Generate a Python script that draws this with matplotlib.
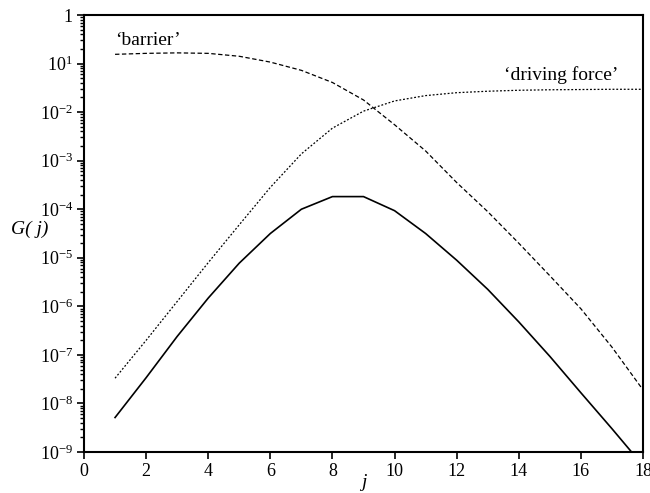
import numpy as np
import matplotlib
matplotlib.use("Agg")
import matplotlib.pyplot as plt
from matplotlib.ticker import FixedLocator, FixedFormatter, LogLocator, NullFormatter

plt.rcParams["font.family"] = ["Liberation Serif", "DejaVu Serif"]
plt.rcParams["mathtext.fontset"] = "custom"
plt.rcParams["mathtext.rm"] = "Liberation Serif"
plt.rcParams["mathtext.it"] = "Liberation Serif:italic"

# cluster size j
j = np.arange(1, 19)

# log10 of each factor, per cluster size
log_barrier = [-0.81, -0.79, -0.78, -0.79, -0.85, -0.97, -1.14, -1.39, -1.75,
               -2.26, -2.80, -3.45, -4.05, -4.70, -5.37, -6.05, -6.84, -7.72]
log_driving = [-7.48, -6.70, -5.90, -5.10, -4.32, -3.55, -2.86, -2.33, -1.98,
               -1.77, -1.66, -1.60, -1.57, -1.55, -1.54, -1.535, -1.53, -1.53]
log_G = [-8.29, -7.47, -6.62, -5.83, -5.11, -4.50, -4.00, -3.74, -3.74,
         -4.03, -4.50, -5.05, -5.65, -6.32, -7.03, -7.78, -8.52, -9.28]

barrier = 10.0 ** np.array(log_barrier)
driving = 10.0 ** np.array(log_driving)
G = 10.0 ** np.array(log_G)

ytick_vals = [1e0, 1e-1, 1e-2, 1e-3, 1e-4, 1e-5, 1e-6, 1e-7, 1e-8, 1e-9]
ytick_labels = ["1", "$10^{1}$", "$10^{-2}$", "$10^{-3}$", "$10^{-4}$", "$10^{-5}$",
                "$10^{-6}$", "$10^{-7}$", "$10^{-8}$", "$10^{-9}$"]
xtick_vals = list(range(0, 19, 2))

fig = plt.figure(figsize=(6.5, 4.93), dpi=100)
ax = fig.add_axes([84 / 650, 1 - 452 / 493, (643 - 84) / 650, (452 - 15) / 493])

ax.plot(j, barrier, color="black", lw=0.9, dashes=(3.5, 2))
ax.plot(j, driving, color="black", lw=0.9, dashes=(1.5, 1.5))
ax.plot(j, G, color="black", lw=1.2)

ax.set_yscale("log")
ax.set_xlim(0, 18)
ax.set_ylim(1e-9, 1)

ax.yaxis.set_major_locator(FixedLocator(ytick_vals))
ax.yaxis.set_major_formatter(FixedFormatter(ytick_labels))
ax.yaxis.set_minor_locator(LogLocator(base=10, subs=np.arange(2, 10) * 1.0, numticks=20))
ax.yaxis.set_minor_formatter(NullFormatter())
ax.set_xticks(xtick_vals)

ax.tick_params(axis="both", which="major", direction="out", length=5, width=1.2,
               labelsize=13, colors="black", pad=3)
ax.tick_params(axis="y", which="minor", direction="out", length=3, width=1.0)
ax.tick_params(top=False, right=False)
for s in ax.spines.values():
    s.set_linewidth(1.5)

ax.set_xlabel("j", fontsize=14, style="italic")
ax.xaxis.set_label_coords(0.5, -0.05)
ax.set_ylabel("G( j)", fontsize=14, style="italic", rotation=0)
ax.yaxis.set_label_coords(-0.098, 0.49)

ax.text(1.0, 0.24, "\u2018barrier\u2019", fontsize=14, ha="left", va="baseline")
ax.text(17.2, 0.046, "\u2018driving force\u2019", fontsize=14, ha="right", va="baseline")

fig.savefig("out.png", dpi=100)
